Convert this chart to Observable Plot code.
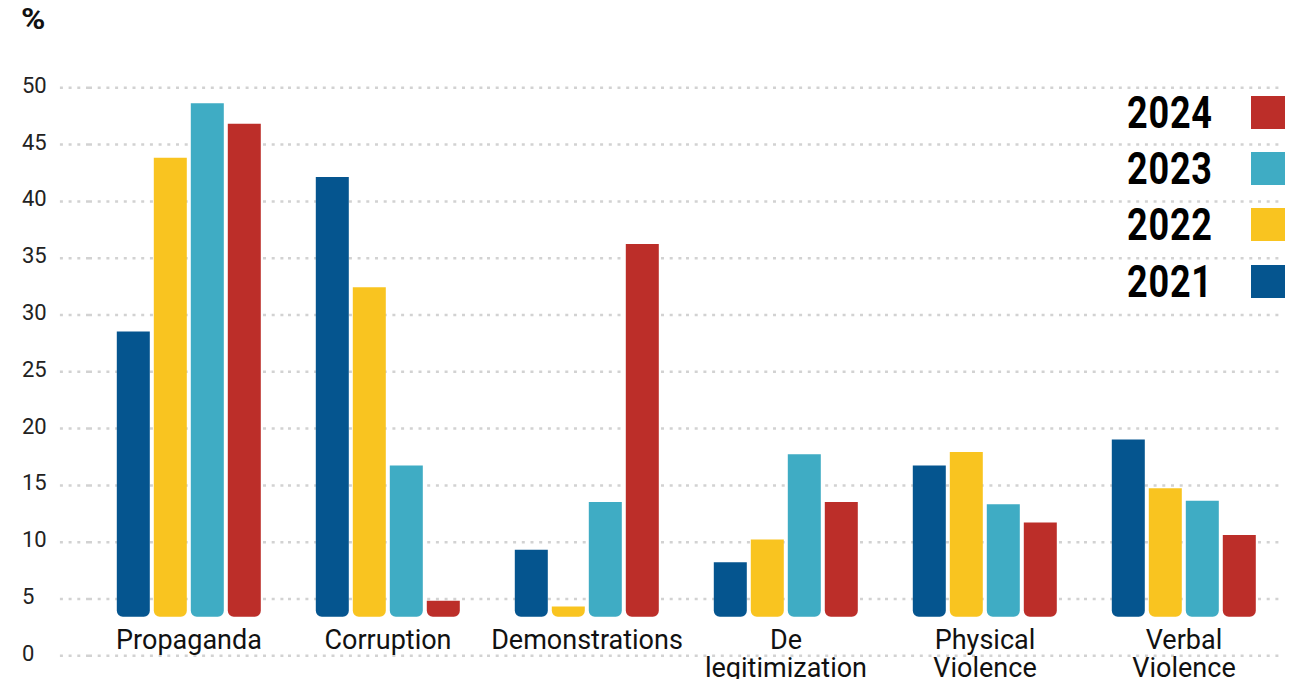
<!DOCTYPE html>
<html>
<head>
<meta charset="utf-8">
<script src="https://cdn.jsdelivr.net/npm/d3@7"></script>
<script src="https://cdn.jsdelivr.net/npm/@observablehq/plot@0.6"></script>
<style>
  html, body { margin: 0; padding: 0; background: #fff; }
  #wrap { position: relative; width: 1313px; height: 679px; overflow: hidden; font-family: Roboto, "Noto Sans", sans-serif; }
  #unit { position: absolute; left: 21px; top: 1px; font-size: 30px; font-weight: 700; color: #111; transform: scaleX(1.1); transform-origin: left center; }
  .leg-row { position: absolute; left: 1127px; height: 33px; width: 160px; }
  .leg-text { position: absolute; left: 0; top: 0; font-family: Roboto, "Noto Sans", sans-serif; font-weight: 700; font-size: 45px; line-height: 33px; color: #000; transform: scaleX(0.8); transform-origin: left center; letter-spacing: 1px; }
  .leg-sw { position: absolute; left: 124px; top: 0; width: 34px; height: 33px; }
</style>
</head>
<body>
<div id="wrap">
  <div id="chart"></div>
  <div id="unit">%</div>
  <div id="legend"></div>
</div>
<script>
// ---- data ----
const categories = ["Propaganda", "Corruption", "Demonstrations", "De legitimization", "Physical Violence", "Verbal Violence"];
const categoryLabels = ["Propaganda", "Corruption", "Demonstrations", "De\nlegitimization", "Physical\nViolence", "Verbal\nViolence"];
const years = ["2021", "2022", "2023", "2024"];
const values2021 = [28.5, 42.1, 9.3, 8.2, 16.7, 19.0];
const values2022 = [43.8, 32.4, 4.3, 10.2, 17.9, 14.7];
const values2023 = [48.6, 16.7, 13.5, 17.7, 13.3, 13.6];
const values2024 = [46.8, 4.8, 36.2, 13.5, 11.7, 10.6];
const yearColors = ["#05558f", "#f9c420", "#3facc4", "#bc2e29"];
const yTicks = [0, 5, 10, 15, 20, 25, 30, 35, 40, 45, 50];
const legendYears = ["2024", "2023", "2022", "2021"];
const barBase = 3.4; // bars in the original rise from just above zero

// ---- table ----
const seriesByYear = [values2021, values2022, values2023, values2024];
const rows = [];
categories.forEach((c, i) => {
  years.forEach((y, j) => rows.push({category: c, year: y, value: seriesByYear[j][i]}));
});
const labelOf = new Map(categories.map((c, i) => [c, categoryLabels[i]]));

const gridStyle = {stroke: "#d2d2d2", strokeOpacity: 1, strokeWidth: 2.5, strokeDasharray: "3,5.7"};

const chart = Plot.plot({
  width: 1313,
  height: 679,
  marginTop: 87.3,
  marginBottom: 23.7,
  marginLeft: 89.2,
  marginRight: 29.3,
  style: {fontFamily: "Roboto, 'Noto Sans', sans-serif", background: "transparent", overflow: "visible"},
  fx: {domain: categories, padding: 0, label: null},
  x: {domain: years, paddingInner: 0.1, paddingOuter: 0.726, axis: null},
  y: {domain: [0, 50], label: null},
  color: {domain: years, range: yearColors},
  marks: [
    Plot.gridY(yTicks, gridStyle),
    Plot.axisY(yTicks, {tickSize: 31, tickFormat: () => "", ...gridStyle}),
    Plot.axisY(yTicks, {tickSize: 0, tickPadding: 0, textAnchor: "start", dx: -67.5, dy: -2, fontSize: 22, fill: "#222", label: null}),
    Plot.rectY(rows, {fx: "category", x: "year", y1: () => barBase, y2: "value", fill: "year", r: 6, ry2: 0, rx1y1: 6, rx2y1: 6, rx1y2: 0, rx2y2: 0}),
    Plot.axisFx({anchor: "bottom", tickSize: 0, tickPadding: 3, dy: -30, fontSize: 27, lineHeight: 1.04, fill: "#111", tickFormat: d => labelOf.get(d), label: null})
  ]
});
document.getElementById("chart").appendChild(chart);

// ---- legend ----
const legend = document.getElementById("legend");
const colorOf = new Map(years.map((y, i) => [y, yearColors[i]]));
legendYears.forEach((y, i) => {
  const row = document.createElement("div");
  row.className = "leg-row";
  row.style.top = (96 + i * 56.2) + "px";
  const t = document.createElement("div");
  t.className = "leg-text";
  t.textContent = y;
  const s = document.createElement("div");
  s.className = "leg-sw";
  s.style.background = colorOf.get(y);
  row.appendChild(t);
  row.appendChild(s);
  legend.appendChild(row);
});
</script>
</body>
</html>
